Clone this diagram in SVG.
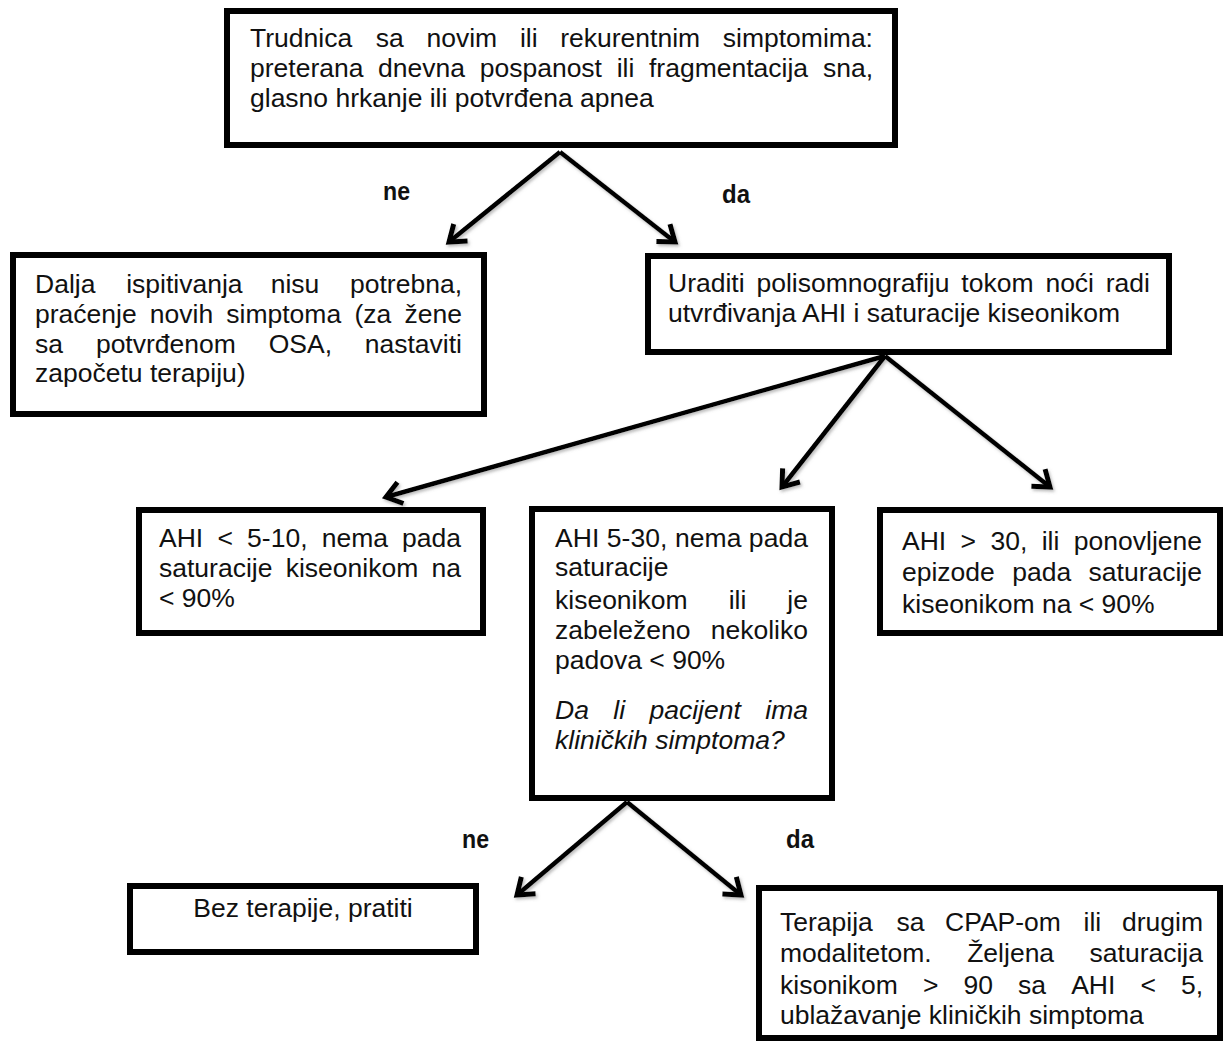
<svg xmlns="http://www.w3.org/2000/svg" width="1227" height="1045" viewBox="0 0 1227 1045">
<style>
.box{fill:#fff;stroke:#000;stroke-width:6}
.t{font-family:"Liberation Sans",Arial,sans-serif;font-size:26.5px;fill:#111}
.it{font-style:italic}
.e{text-anchor:end}
.lbl{font-family:"Liberation Sans",Arial,sans-serif;font-size:26px;font-weight:bold;fill:#111}
.arr{stroke:#000;stroke-width:4.5;fill:none;marker-end:url(#head)}
</style>
<defs>
<marker id="head" markerUnits="userSpaceOnUse" markerWidth="40" markerHeight="40" viewBox="-20 -20 40 40" refX="0" refY="0" orient="auto">
<path d="M-15,-11 L0,0 L-15,11" fill="none" stroke="#000" stroke-width="5" stroke-linejoin="miter"/>
</marker>
<filter id="sh" x="-10%" y="-10%" width="120%" height="120%">
<feDropShadow dx="1.5" dy="2" stdDeviation="1.5" flood-color="#777" flood-opacity="0.5"/>
</filter>
</defs>

<g id="connectors" filter="url(#sh)">
<line class="arr" x1="560" y1="152" x2="449" y2="242"/>
<line class="arr" x1="560" y1="152" x2="675" y2="242"/>
<line class="arr" x1="885" y1="356" x2="386" y2="497"/>
<line class="arr" x1="885" y1="356" x2="782" y2="487"/>
<line class="arr" x1="885" y1="356" x2="1050" y2="487"/>
<line class="arr" x1="627" y1="802" x2="517" y2="895"/>
<line class="arr" x1="627" y1="802" x2="741" y2="895"/>
</g>

<g id="labels">
<text class="lbl" x="383" y="200" textLength="27" lengthAdjust="spacingAndGlyphs">ne</text>
<text class="lbl" x="722" y="203" textLength="28" lengthAdjust="spacingAndGlyphs">da</text>
<text class="lbl" x="462" y="848" textLength="27" lengthAdjust="spacingAndGlyphs">ne</text>
<text class="lbl" x="786" y="848" textLength="28" lengthAdjust="spacingAndGlyphs">da</text>
</g>

<g id="n-start">
<rect class="box" x="227" y="11" width="668" height="134"/>
<text class="t" y="47"><tspan x="250">Trudnica</tspan><tspan x="375.8">sa</tspan><tspan x="426.5">novim</tspan><tspan x="519.9">ili</tspan><tspan x="560.2">rekurentnim</tspan><tspan x="873" class="e">simptomima:</tspan></text>
<text class="t" y="77"><tspan x="250">preterana</tspan><tspan x="378.1">dnevna</tspan><tspan x="479.7">pospanost</tspan><tspan x="616.7">ili</tspan><tspan x="649">fragmentacija</tspan><tspan x="873" class="e">sna,</tspan></text>
<text class="t" x="250" y="107">glasno hrkanje ili potvrđena apnea</text>
</g>

<g id="n-no-tests">
<rect class="box" x="13" y="255" width="471" height="159"/>
<text class="t" y="293"><tspan x="35">Dalja</tspan><tspan x="126.2">ispitivanja</tspan><tspan x="270.7">nisu</tspan><tspan x="462" class="e">potrebna,</tspan></text>
<text class="t" y="323"><tspan x="35">praćenje</tspan><tspan x="149.8">novih</tspan><tspan x="226.3">simptoma</tspan><tspan x="354.4">(za</tspan><tspan x="462" class="e">žene</tspan></text>
<text class="t" y="353"><tspan x="35">sa</tspan><tspan x="95.9">potvrđenom</tspan><tspan x="268.7">OSA,</tspan><tspan x="462" class="e">nastaviti</tspan></text>
<text class="t" x="35" y="382">započetu terapiju)</text>
</g>

<g id="n-psg">
<rect class="box" x="648" y="256" width="521" height="96"/>
<text class="t" y="292"><tspan x="668">Uraditi</tspan><tspan x="756.5">polisomnografiju</tspan><tspan x="961.3">tokom</tspan><tspan x="1045.4">noći</tspan><tspan x="1150" class="e">radi</tspan></text>
<text class="t" x="668" y="322">utvrđivanja AHI i saturacije kiseonikom</text>
</g>

<g id="n-ahi-low">
<rect class="box" x="139" y="510" width="344" height="123"/>
<text class="t" y="547"><tspan x="159">AHI</tspan><tspan x="217.4">&lt;</tspan><tspan x="247.1">5-10,</tspan><tspan x="321.7">nema</tspan><tspan x="461" class="e">pada</tspan></text>
<text class="t" y="577"><tspan x="159">saturacije</tspan><tspan x="285.7">kiseonikom</tspan><tspan x="461" class="e">na</tspan></text>
<text class="t" x="159" y="607">&lt; 90%</text>
</g>

<g id="n-ahi-mid">
<rect class="box" x="532" y="509" width="300" height="289"/>
<text class="t" x="555" y="547" textLength="253" lengthAdjust="spacing">AHI 5-30, nema pada</text>
<text class="t" x="555" y="576">saturacije</text>
<text class="t" y="609"><tspan x="555">kiseonikom</tspan><tspan x="728.7">ili</tspan><tspan x="808" class="e">je</tspan></text>
<text class="t" y="639"><tspan x="555">zabeleženo</tspan><tspan x="808" class="e">nekoliko</tspan></text>
<text class="t" x="555" y="669">padova &lt; 90%</text>
<text class="t it" y="719"><tspan x="555">Da</tspan><tspan x="613.3">li</tspan><tspan x="649.5">pacijent</tspan><tspan x="808" class="e">ima</tspan></text>
<text class="t it" x="555" y="749">kliničkih simptoma?</text>
</g>

<g id="n-ahi-high">
<rect class="box" x="880" y="510" width="340" height="123"/>
<text class="t" y="550"><tspan x="902">AHI</tspan><tspan x="960.6">&gt;</tspan><tspan x="990.5">30,</tspan><tspan x="1041.7">ili</tspan><tspan x="1202" class="e">ponovljene</tspan></text>
<text class="t" y="581"><tspan x="902">epizode</tspan><tspan x="1012.3">pada</tspan><tspan x="1202" class="e">saturacije</tspan></text>
<text class="t" x="902" y="613">kiseonikom na &lt; 90%</text>
</g>

<g id="n-no-therapy">
<rect class="box" x="130" y="886" width="346" height="66"/>
<text class="t" x="303" y="917" text-anchor="middle">Bez terapije, pratiti</text>
</g>

<g id="n-cpap">
<rect class="box" x="759" y="888" width="461" height="150"/>
<text class="t" y="931"><tspan x="780">Terapija</tspan><tspan x="896.4">sa</tspan><tspan x="945.1">CPAP-om</tspan><tspan x="1083.6">ili</tspan><tspan x="1203" class="e">drugim</tspan></text>
<text class="t" y="962"><tspan x="780">modalitetom.</tspan><tspan x="967.2">Željena</tspan><tspan x="1203" class="e">saturacija</tspan></text>
<text class="t" y="994"><tspan x="780">kisonikom</tspan><tspan x="922.9">&gt;</tspan><tspan x="963.5">90</tspan><tspan x="1018.1">sa</tspan><tspan x="1071.2">AHI</tspan><tspan x="1140.5">&lt;</tspan><tspan x="1203" class="e">5,</tspan></text>
<text class="t" x="780" y="1024">ublažavanje kliničkih simptoma</text>
</g>
</svg>
